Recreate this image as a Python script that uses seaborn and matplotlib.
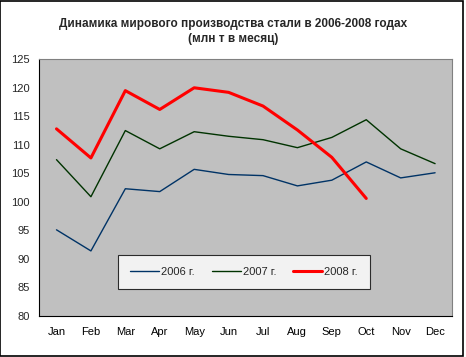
import matplotlib
matplotlib.use("Agg")
import matplotlib.pyplot as plt
import numpy as np
import pandas as pd
import seaborn as sns
from matplotlib.patches import Rectangle

months = ["Jan", "Feb", "Mar", "Apr", "May", "Jun",
          "Jul", "Aug", "Sep", "Oct", "Nov", "Dec"]
steel_2006 = [95.1, 91.4, 102.3, 101.8, 105.7, 104.8, 104.6, 102.8, 103.8, 107.0, 104.2, 105.1]
steel_2007 = [107.4, 100.9, 112.5, 109.3, 112.3, 111.5, 110.9, 109.5, 111.3, 114.4, 109.3, 106.7]
steel_2008 = [112.8, 107.7, 119.5, 116.2, 120.0, 119.2, 116.8, 112.6, 107.8, 100.6]
series_names = ["2006 г.", "2007 г.", "2008 г."]

rows = []
for name, vals in zip(series_names, [steel_2006, steel_2007, steel_2008]):
    for i, v in enumerate(vals):
        rows.append({"month": i, "value": v, "series": name})
df = pd.DataFrame(rows)

sns.set_theme(style="white")
plt.rcParams["font.family"] = ["Liberation Sans", "DejaVu Sans"]

fig = plt.figure(figsize=(4.66, 3.57), dpi=100)
ax = fig.add_axes([0.0843, 0.115, 0.8863, 0.719])
ax.set_facecolor("#C0C0C0")

palette = {"2006 г.": "#003366", "2007 г.": "#003300", "2008 г.": "#FF0000"}
sizes = {"2006 г.": 1.0, "2007 г.": 1.0, "2008 г.": 2.2}
sns.lineplot(data=df, x="month", y="value", hue="series", size="series",
             palette=palette, sizes=sizes, ax=ax, legend=False)

ax.set_xlim(-0.5, 11.5)
ax.set_ylim(80, 125)
ax.set_yticks(np.arange(80, 126, 5))
ax.set_xticks(range(len(months)))
ax.set_xticklabels(months)
ax.set_xticks(np.arange(-0.5, 12, 1), minor=True)
ax.tick_params(axis="x", which="major", length=0, pad=8, labelsize=8, colors="black")
ax.tick_params(axis="x", which="minor", length=4, width=0.8, color="black", direction="out")
ax.tick_params(axis="y", length=4, width=0.8, color="black", direction="out",
               labelsize=8, pad=3)
ax.set_xlabel("")
ax.set_ylabel("")
ax.grid(False)

for side in ["left", "bottom"]:
    ax.spines[side].set_color("black")
    ax.spines[side].set_linewidth(0.8)
for side in ["top", "right"]:
    ax.spines[side].set_color("#808080")
    ax.spines[side].set_linewidth(0.8)

handles = [plt.Line2D([], [], color=palette[n], lw=sizes[n]) for n in series_names]
leg = ax.legend(handles, series_names, loc="lower left",
                bbox_to_anchor=(0.178, 0.085, 0.635, 0.13), mode="expand",
                ncol=3, frameon=True, fancybox=False, fontsize=8,
                handlelength=2.6, handletextpad=0.2, borderpad=1.05,
                columnspacing=1.5)
leg.get_frame().set_edgecolor("black")
leg.get_frame().set_linewidth(0.8)
leg.get_frame().set_facecolor("white")

fig.text(0.5, 0.95, "Динамика мирового производства стали в 2006-2008 годах\n(млн т в месяц)",
         ha="center", va="top", fontsize=8.5, fontweight="bold", linespacing=1.4)

fig.patches.append(Rectangle((0.001, 0.003), 0.992, 0.995, transform=fig.transFigure,
                             fill=False, edgecolor="black", linewidth=1.2))

fig.savefig("out.png", dpi=100, facecolor="white")
